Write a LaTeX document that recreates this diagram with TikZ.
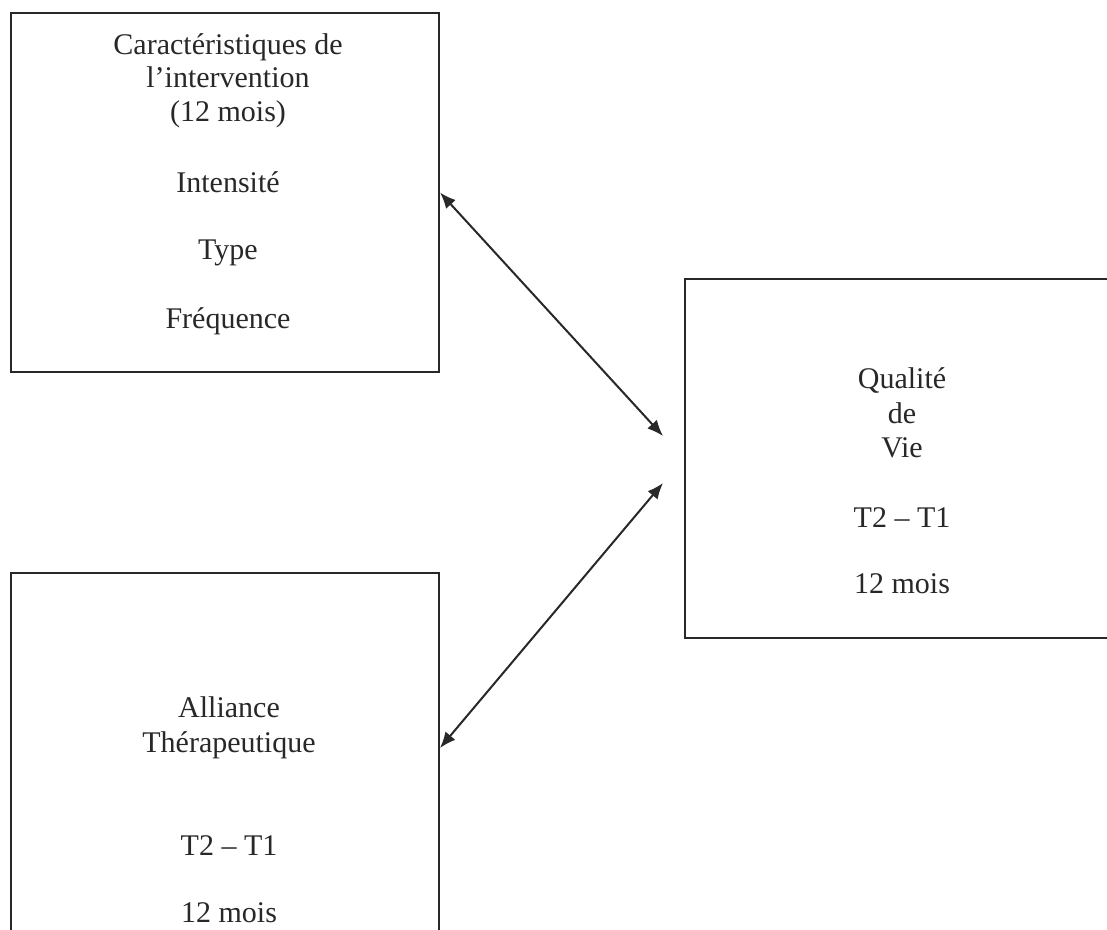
\documentclass[tikz,border=0pt]{standalone}
\usepackage{fontspec}
\setmainfont{Liberation Serif}
\usetikzlibrary{arrows.meta,calc}
\definecolor{ink}{RGB}{40,40,40}
\begin{document}
\begin{tikzpicture}[x=1pt,y=-1pt,
  box/.style={draw=ink,line width=2pt,minimum width=428pt,minimum height=359pt,inner sep=0pt},
  txt/.style={anchor=base,inner sep=0pt,text=ink,font=\fontsize{30}{34}\selectfont},
  link/.style={draw=ink,line width=2pt,{Latex[length=16pt,width=13pt]}-{Latex[length=16pt,width=13pt]}}]
\useasboundingbox (0,0) rectangle (1107,929);
\clip (0,0) rectangle (1107,929);
\fill[white] (0,0) rectangle (1107,929);
% boxes
\node[box] (carac) at (225,192.5) {};
\node[box,minimum width=436pt] (qdv) at (903,458.5) {};
\node[box] (alli) at (225,752.5) {};
% texts box 1
\node[txt] (c1) at (228,54) {Caractéristiques de};
\node[txt] (c2) at (228,87) {l’intervention};
\node[txt] (c3) at (228,121) {(12 mois)};
\node[txt] (c4) at (228,192) {Intensité};
\node[txt] (c5) at (228,259) {Type};
\node[txt] (c6) at (228,328) {Fréquence};
% texts box 2
\node[txt] (q1) at (902,388) {Qualité};
\node[txt] (q2) at (902,423) {de};
\node[txt] (q3) at (902,457) {Vie};
\node[txt] (q4) at (902,527) {T2 – T1};
\node[txt] (q5) at (902,593) {12 mois};
% texts box 3
\node[txt] (a1) at (229,717) {Alliance};
\node[txt] (a2) at (229,752) {Thérapeutique};
\node[txt] (a3) at (229,855) {T2 – T1};
\node[txt] (a4) at (229,922) {12 mois};
% connectors
\coordinate (qa) at (663,436);
\coordinate (qb) at (663,483);
\coordinate (ae) at (440,748);
\draw[link] (carac.east) -- (qa);
\draw[link] (ae) -- (qb);
\end{tikzpicture}
\end{document}
